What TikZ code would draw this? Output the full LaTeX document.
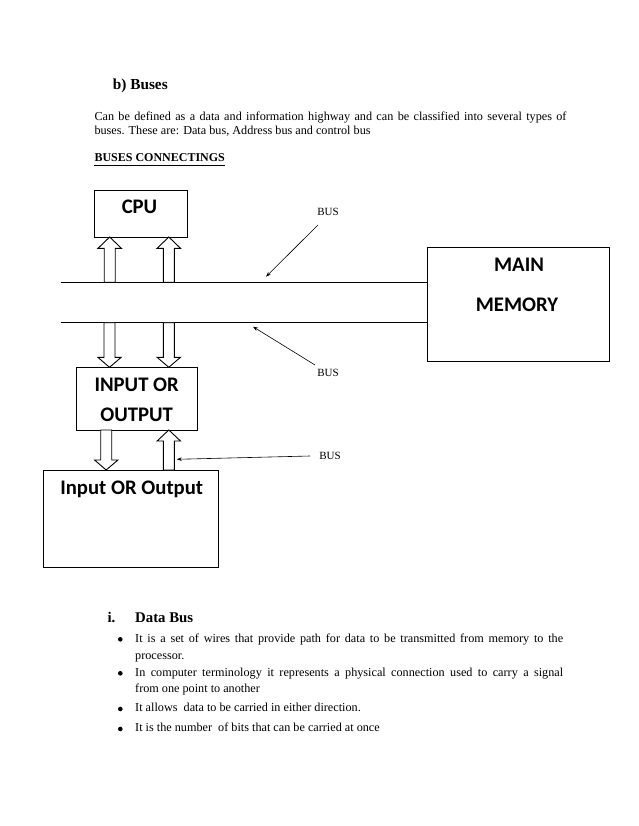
\documentclass[tikz,border=0pt]{standalone}
\usepackage{fontspec}
\setmainfont{Liberation Serif}
\newfontfamily\calib{Carlito}
\usetikzlibrary{arrows.meta}
\newcommand\blockarr[4]{%
  \draw[barrow] (#1-5.5,#2) -- (#1-5.5,#3) -- (#1-11.7,#3) -- (#1,#4) -- (#1+11.7,#3) -- (#1+5.5,#3) -- (#1+5.5,#2) -- cycle;}
\begin{document}
\begin{tikzpicture}[x=1pt,y=-1pt,
  box/.style={draw, line width=0.9pt, inner sep=0pt, anchor=north west},
  boxtext/.style={font=\calib\bfseries\fontsize{20.7}{24}\selectfont, inner sep=0pt},
  body/.style={font=\fontsize{12.2}{14}\selectfont, inner sep=0pt, anchor=west, text height=8.4pt, text depth=2.6pt},
  head/.style={font=\bfseries\fontsize{15.3}{18}\selectfont, inner sep=0pt, anchor=west, text height=10.4pt, text depth=3pt},
  buslbl/.style={font=\fontsize{11}{13}\selectfont, inner sep=0pt},
  barrow/.style={line width=0.9pt, fill=white, line join=miter},
  thin/.style={line width=0.6pt, -{Stealth[length=5pt,width=3.6pt]}},
  busline/.style={line width=0.9pt},
  bul/.style={circle, fill=black, inner sep=0pt, minimum size=4.6pt}]
\useasboundingbox[fill=white] (0,0) rectangle (638,826);

% header text
\node[head] (hb) at (112.7,85.7) {b) Buses};
\node[body] (p1) at (94.3,117.7) {\makebox[472pt][s]{Can be defined as a data and information highway and can be classified into several types of}};
\node[body] (p2) at (94.3,131.7) {buses. These are: Data bus, Address bus and control bus};
\node[body, font=\bfseries\fontsize{12}{14}\selectfont] (bc) at (94.3,158.3) {BUSES CONNECTINGS};
\draw[line width=0.8pt] (bc.south west) ++(0,1.2) -- ([yshift=-1.2pt]bc.south east);

% boxes
\node[box, minimum width=92.7pt, minimum height=47pt] (cpu) at (94,190) {};
\node[boxtext] (cput) at (139.5,206.7) {CPU};
\node[box, minimum width=182pt, minimum height=113.7pt] (mem) at (427.3,247.3) {};
\node[boxtext] (memt1) at (519,265) {MAIN};
\node[boxtext] (memt2) at (517,305) {MEMORY};
\node[box, minimum width=121.6pt, minimum height=62.7pt] (io1) at (75.7,367.3) {};
\node[boxtext] (io1t1) at (136.7,384.3) {INPUT OR};
\node[boxtext] (io1t2) at (136.7,414.3) {OUTPUT};
\node[box, minimum width=175pt, minimum height=96.7pt] (io2) at (43.3,470) {};
\node[boxtext] (io2t) at (131.7,489) {Input OR Output};

% bus lines
\coordinate (b1s) at (60.7,282.3);
\coordinate (b2s) at (60.7,322.7);
\draw[busline] (b1s) -- (b1s -| mem.west);
\draw[busline] (b2s) -- (b2s -| mem.west);

% block arrows
\blockarr{109.7}{282.3}{248.3}{237}
\blockarr{168.8}{282.3}{248.3}{237}
\blockarr{109.5}{322.7}{357.3}{367.3}
\blockarr{168.8}{322.7}{357.3}{367.3}
\blockarr{106.2}{430}{460}{470}
\blockarr{168.8}{470}{441}{430}

% bus labels
\node[buslbl] (l1) at (328,212) {BUS};
\node[buslbl] (l2) at (328,373) {BUS};
\node[buslbl] (l3) at (330,455.5) {BUS};
\coordinate (a1) at (266,276.7);
\coordinate (a2) at (253,326.7);
\coordinate (a3) at (176.7,459.3);
\draw[thin] (318,225) -- (a1);
\draw[thin] (315,365) -- (a2);
\draw[thin] (310,456) -- (a3);

% data bus text
\node[head, font=\bfseries\fontsize{14.8}{18}\selectfont] (ii) at (107.3,618.3) {i.};
\node[head, font=\bfseries\fontsize{14.8}{18}\selectfont] (db) at (135,618.3) {Data Bus};
\node[bul] (d1) at (120.3,639.3) {};
\node[body] (t1) at (135,639.3) {\makebox[428pt][s]{It is a set of wires that provide path for data to be transmitted from memory to the}};
\node[body] (t1b) at (135,656.7) {processor.};
\node[bul] (d2) at (120.3,673.3) {};
\node[body] (t2) at (135,673.3) {\makebox[428pt][s]{In computer terminology it represents a physical connection used to carry a signal}};
\node[body] (t2b) at (135,690) {from one point to another};
\node[bul] (d3) at (120.3,709) {};
\node[body] (t3) at (135,709) {It allows\ \ data to be carried in either direction.};
\node[bul] (d4) at (120.3,729) {};
\node[body] (t4) at (135,729) {It is the number\ \ of bits that can be carried at once};
\end{tikzpicture}
\end{document}
